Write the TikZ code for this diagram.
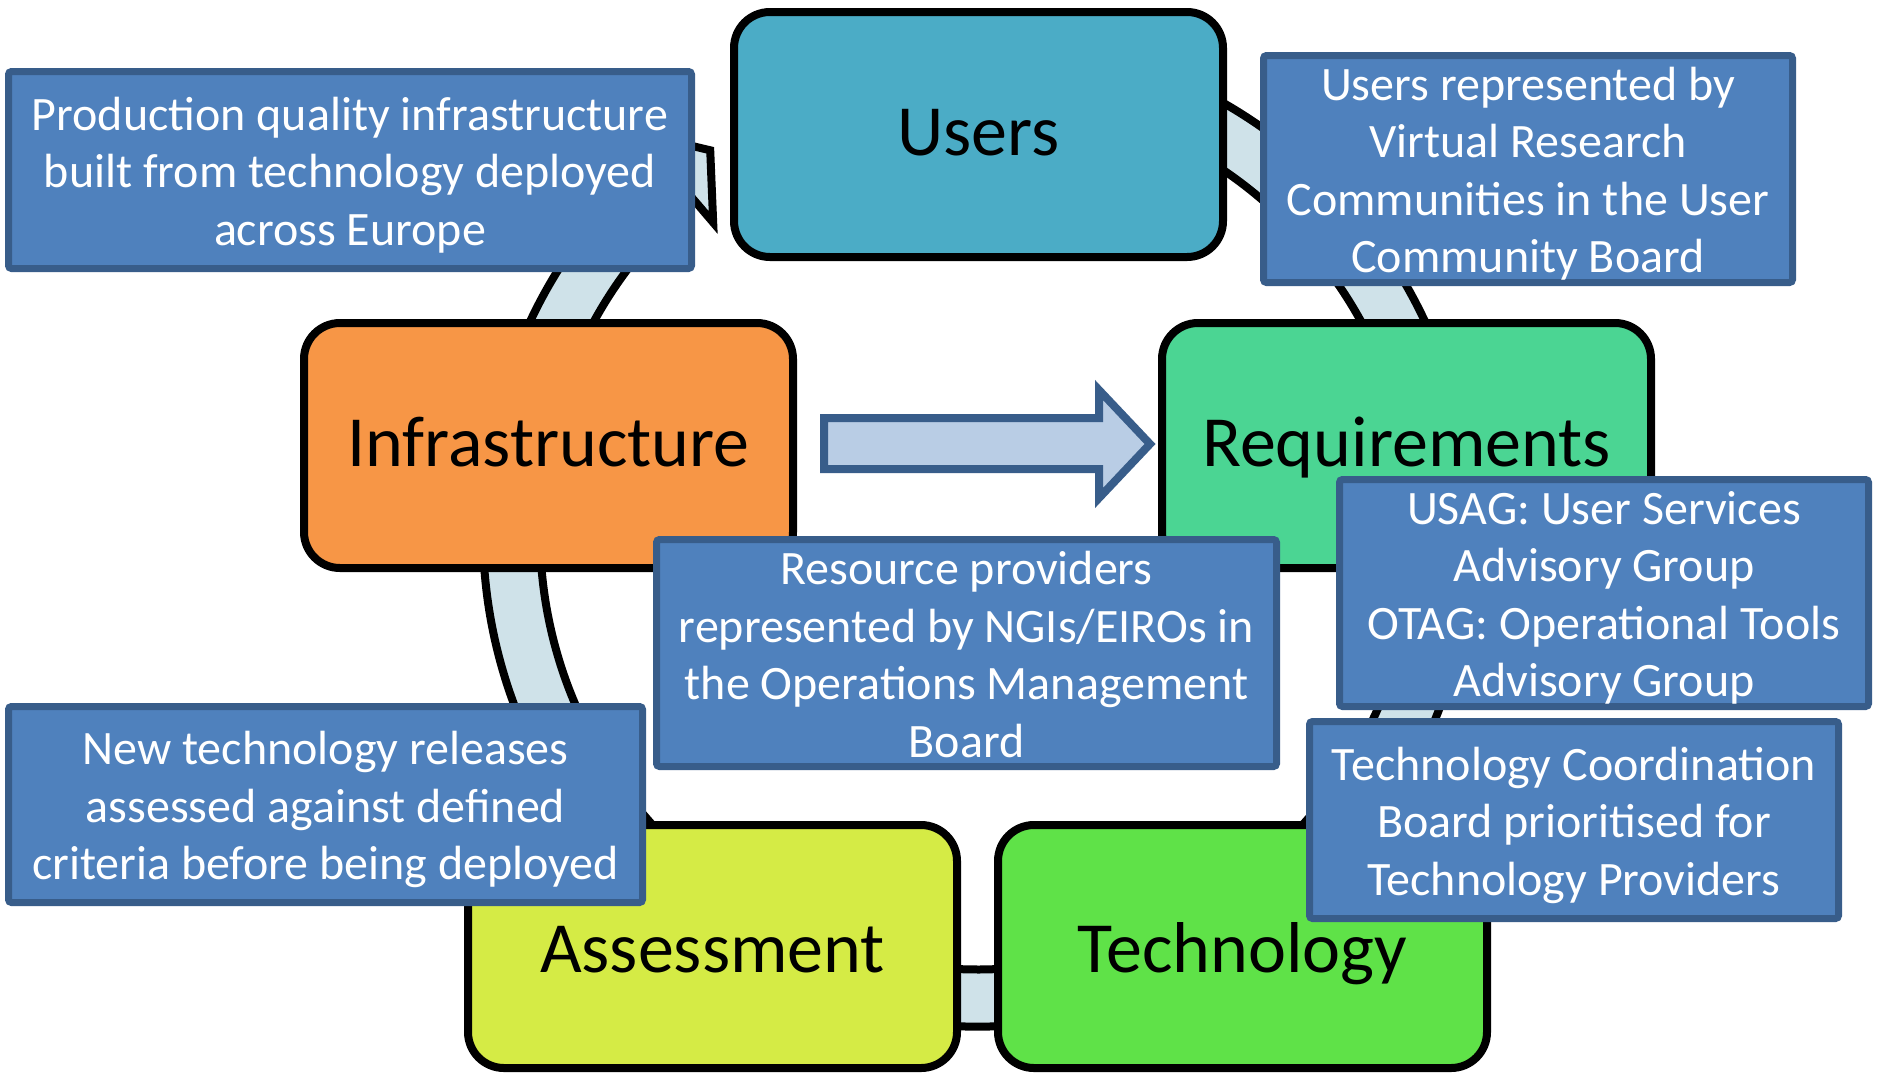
\documentclass[tikz,border=0pt]{standalone}
\usepackage{fontspec}
\setmainfont{Carlito}
\usetikzlibrary{calc}
\definecolor{ringfill}{HTML}{CFE2E9}
\definecolor{usersc}{HTML}{4BACC6}
\definecolor{infrac}{HTML}{F79646}
\definecolor{reqc}{HTML}{4BD593}
\definecolor{techc}{HTML}{5FE248}
\definecolor{assc}{HTML}{D5EB45}
\definecolor{bluebox}{HTML}{4F81BD}
\definecolor{blueedge}{HTML}{385D8A}
\definecolor{arrowfill}{HTML}{B9CDE5}
\begin{document}
\begin{tikzpicture}[x=1pt,y=-1pt,
  mainbox/.style={draw=black, line width=8pt, rounded corners=36pt,
    minimum width=489pt, minimum height=245pt, inner sep=0pt,
    text height=42pt, text depth=0pt,
    font=\fontsize{72}{80}\selectfont, text=black},
  lowbox/.style={mainbox, minimum height=243pt, text height=52pt},
  infobox/.style={draw=blueedge, fill=bluebox, line width=7pt, rounded corners=3pt,
    inner sep=0pt},
  infotext/.style={inner sep=0pt, text=white, align=center,
    font=\fontsize{48}{57.5}\selectfont},
  ring/.style={draw=black, fill=ringfill, line width=8pt, line join=miter},
  bigarrow/.style={draw=blueedge, fill=arrowfill, line width=8pt, line join=miter}]
\useasboundingbox[fill=white] (0,0) rectangle (1878,1072);
% cycle ring with arrow head
\coordinate (C) at (977.5,532);
\draw[ring] ($(C)+(250:494.5)$) arc[start angle=250,end angle=589.5,radius=494.5]
  -- ($(C)+(589.5:525)$) -- ($(C)+(595:466)$) -- ($(C)+(589.5:407)$)
  -- ($(C)+(589.5:437.5)$) arc[start angle=589.5,end angle=250,radius=437.5] -- cycle;
% main boxes
\node[mainbox, fill=usersc] (users) at (978.5,134.5) {Users};
\node[mainbox, fill=infrac] (infra) at (548.5,445.5) {Infrastructure};
\node[mainbox, fill=reqc] (req) at (1406.5,445.5) {Requirements};
\node[lowbox, fill=assc] (assess) at (712.5,946.5) {Assessment};
\node[lowbox, fill=techc] (tech) at (1242.5,946.5) {Technology};
% block arrow
\draw[bigarrow] (824,418) -- (1099,418) -- (1099,390) -- (1150,444) -- (1099,498)
  -- (1099,469) -- (824,469) -- cycle;
% info boxes
\node[infobox, minimum width=683pt, minimum height=197pt] (prod) at (350,170) {};
\node[infotext] (prodtext) at ($(prod.center)+(0,5)$)
  {Production quality infrastructure\\built from technology deployed\\across Europe};
\node[infobox, minimum width=529pt, minimum height=227pt] (urep) at (1528,169) {};
\node[infotext] (ureptext) at ($(urep.center)+(0,4.5)$)
  {Users represented by\\Virtual Research\\Communities in the User\\Community Board};
\node[infobox, minimum width=620pt, minimum height=227pt] (res) at (966.5,653) {};
\node[infotext] (restext) at ($(res.center)+(0,1.5)$)
  {Resource providers\\represented by NGIs/EIROs in\\the Operations Management\\Board};
\node[infobox, minimum width=529pt, minimum height=227pt] (usag) at (1604,593) {};
\node[infotext] (usagtext) at ($(usag.center)+(0,5)$)
  {USAG: User Services\\Advisory Group\\OTAG: Operational Tools\\Advisory Group};
\node[infobox, minimum width=634pt, minimum height=196pt] (newt) at (325.5,804.5) {};
\node[infotext] (newttext) at ($(newt.center)+(0,5)$)
  {New technology releases\\assessed against defined\\criteria before being deployed};
\node[infobox, minimum width=529pt, minimum height=197pt] (tcb) at (1574,820) {};
\node[infotext] (tcbtext) at ($(tcb.center)+(0,5)$)
  {Technology Coordination\\Board prioritised for\\Technology Providers};
\end{tikzpicture}
\end{document}
